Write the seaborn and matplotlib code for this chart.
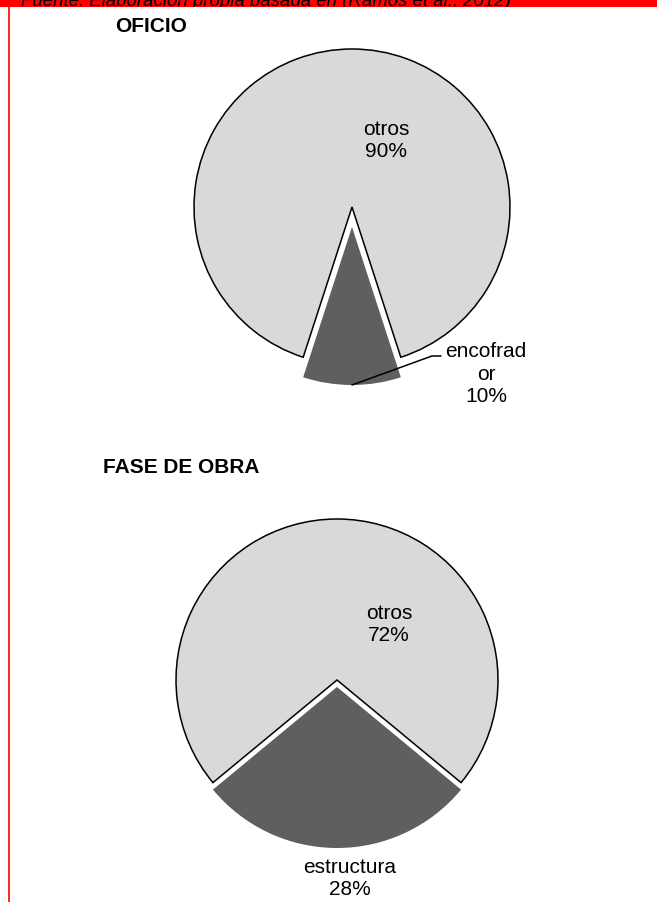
import numpy as np
import pandas as pd
import matplotlib
matplotlib.use("Agg")
import matplotlib.pyplot as plt
import seaborn as sns

# data
oficio_labels = ["otros", "encofrad\nor"]
oficio_values = [90, 10]

fase_labels = ["otros", "estructura"]
fase_values = [72, 28]

fuente = "Fuente: Elaboración propia basada en (Ramos et al., 2012)"

sns.set_theme(style="white")
plt.rcParams["font.family"] = ["Liberation Sans", "DejaVu Sans"]

W, H = 657, 902
light = "#D9D9D9"
dark = "#5F5F5F"
fs = 15

fig = plt.figure(figsize=(W / 100, H / 100), dpi=100)
fig.patch.set_facecolor("white")

ax = fig.add_axes([0, 0, 1, 1])


def py(y):
    # pixel rows counted from the top
    return H - y


# OFICIO
w_top, _ = ax.pie(
    oficio_values,
    colors=[light, dark],
    startangle=-72,
    counterclock=True,
    explode=[0, 20],
    radius=158,
    center=(352, py(207)),
    wedgeprops=dict(edgecolor="black", linewidth=1.1),
)
w_top[1].set_linewidth(0)

# FASE DE OBRA
w_bot, _ = ax.pie(
    fase_values,
    colors=[light, dark],
    startangle=-39.6,
    counterclock=True,
    explode=[0, 7],
    radius=161,
    center=(337, py(680)),
    wedgeprops=dict(edgecolor="black", linewidth=1.1),
)
w_bot[1].set_linewidth(0)

# leader line for the small slice
w = w_top[1]
mid = np.deg2rad((w.theta1 + w.theta2) / 2)
x0 = w.center[0] + w.r * np.cos(mid)
y0 = w.center[1] + w.r * np.sin(mid)
ax.plot([x0, 432, 441], [y0, py(356), py(356)], color="black", lw=1.1)

# slice labels
ax.text(386, py(120), f"{oficio_labels[0]}\n{oficio_values[0]}%",
        ha="center", va="top", fontsize=fs, color="black")
ax.text(486, py(342), f"{oficio_labels[1]}\n{oficio_values[1]}%",
        ha="center", va="top", fontsize=fs, color="black", linespacing=1.25)
ax.text(389, py(604), f"{fase_labels[0]}\n{fase_values[0]}%",
        ha="center", va="top", fontsize=fs, color="black")
ax.text(350, py(858), f"{fase_labels[1]}\n{fase_values[1]}%",
        ha="center", va="top", fontsize=fs, color="black")

# titles
ax.text(115, py(32), "OFICIO", ha="left", va="baseline",
        fontsize=fs, fontweight="bold", color="black")
ax.text(103, py(473), "FASE DE OBRA", ha="left", va="baseline",
        fontsize=fs, fontweight="bold", color="black")

# red left rule
ax.plot([8.5, 8.5], [0, H], color="red", lw=1.2)

ax.set_aspect("auto")
ax.set_xlim(0, W)
ax.set_ylim(0, H)
ax.axis("off")

# red header strip with the clipped caption (cut off in the reference too)
hdr = fig.add_axes([0, 1 - 7 / H, 1, 7 / H])
hdr.set_facecolor("red")
for s in hdr.spines.values():
    s.set_visible(False)
hdr.set_xticks([])
hdr.set_yticks([])
hdr.text(21 / W, 1 / 7, fuente, transform=hdr.transAxes, ha="left",
         va="baseline", fontsize=13.4, style="italic", color="black", clip_on=True)

fig.savefig("out.png", dpi=100, facecolor="white")
